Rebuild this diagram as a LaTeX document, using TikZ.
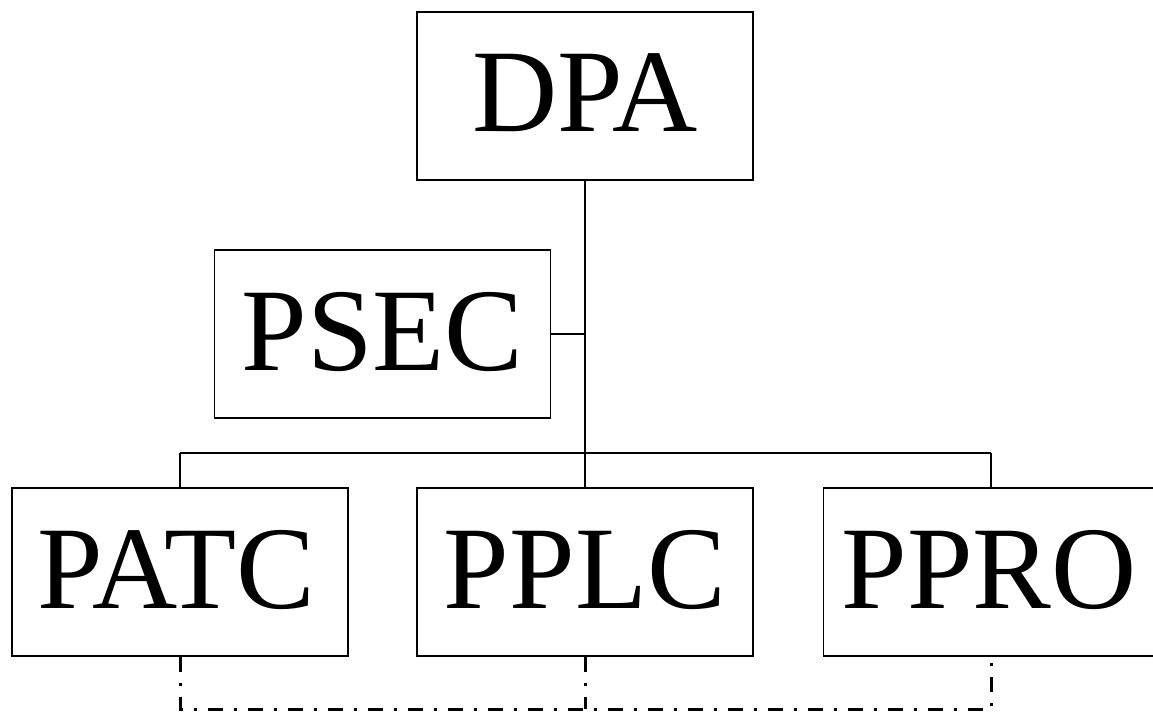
\documentclass[tikz,border=0pt]{standalone}
\usepackage{fontspec}
\newfontfamily\boxfont{Liberation Serif}
\begin{document}
\begin{tikzpicture}[x=1pt,y=-1pt,
  unit/.style={draw=black,line width=1.4pt,minimum width=#1,minimum height=168pt,inner sep=0pt,
    font=\boxfont\fontsize{118}{118}\selectfont},
  unit/.default=336pt,
  tree/.style={line width=1.3pt},
  link/.style={line width=3pt,dash pattern=on 15pt off 11pt on 3pt off 11pt}]
\useasboundingbox (0,0) rectangle (1153,713);
\begin{scope}
\clip (0,0) rectangle (1153,713);
\node[unit] (dpa) at (585,96) {\raisebox{6pt}{DPA}};
\node[unit] (psec) at (382.5,334) {\raisebox{6pt}{PSEC}};
\node[unit] (patc) at (180,572) {\raisebox{6pt}{\hspace*{-8pt}PATC}};
\node[unit] (pplc) at (585,572) {\raisebox{6pt}{PPLC}};
\node[unit,anchor=west] (ppro) at (823,572) {\raisebox{6pt}{\hspace*{-5pt}PPRO}};
\coordinate (bus) at (585,453);
\coordinate (busL) at (180,453);
\coordinate (busR) at (991,453);
\coordinate (lowL) at (180,709);
\coordinate (lowM) at (585,709);
\coordinate (lowR) at (991,709);
\draw[tree] (dpa.south) -- (bus);
\draw[tree] (psec.east) -- (psec.east -| bus);
\draw[tree] (busL) -- (busR);
\draw[tree] (busL) -- (busL |- patc.north);
\draw[tree] (bus) -- (pplc.north);
\draw[tree] (busR) -- (busR |- ppro.north);
\draw[link] (busL |- patc.south) -- (lowL) -- (lowR) -- (busR |- ppro.south);
\draw[link] (pplc.south) -- (lowM);
\end{scope}
\end{tikzpicture}
\end{document}
